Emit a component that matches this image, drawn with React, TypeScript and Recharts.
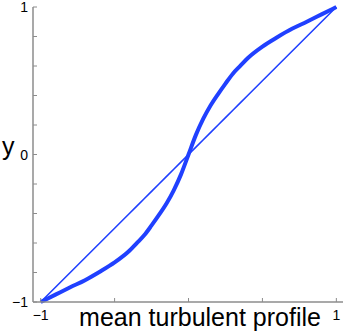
import React from 'react';
import { LineChart, Line, XAxis, YAxis } from 'recharts';

// sample positions across the channel
const xs = [-1, -0.9, -0.8, -0.7, -0.6, -0.5, -0.4, -0.35, -0.3, -0.25, -0.2, -0.15, -0.1, -0.05, 0,
  0.05, 0.1, 0.15, 0.2, 0.25, 0.3, 0.35, 0.4, 0.5, 0.6, 0.7, 0.8, 0.9, 1];
// thick S-shaped mean turbulent profile
const profile = [-1, -0.95, -0.9, -0.852, -0.795, -0.732, -0.653, -0.601, -0.548, -0.481, -0.41, -0.334, -0.243, -0.133, 0,
  0.133, 0.243, 0.334, 0.41, 0.481, 0.548, 0.601, 0.653, 0.732, 0.795, 0.852, 0.9, 0.95, 1];
// thin straight reference line
const linear = [-1, -0.9, -0.8, -0.7, -0.6, -0.5, -0.4, -0.35, -0.3, -0.25, -0.2, -0.15, -0.1, -0.05, 0,
  0.05, 0.1, 0.15, 0.2, 0.25, 0.3, 0.35, 0.4, 0.5, 0.6, 0.7, 0.8, 0.9, 1];

const xTicks = [-1, -0.5, 0, 0.5, 1];
const xLabelled = [-1, 1];
const yTicks = [-1, -0.8, -0.6, -0.4, -0.2, 0, 0.2, 0.4, 0.6, 0.8, 1];
const yLabelled = [-1, 0, 1];

const data = xs.map((x, i) => ({ x, profile: profile[i], linear: linear[i] }));

const BLUE = '#2040ff';
const GREY = '#8c8c8c';
const FONT = '"Liberation Sans", Arial, sans-serif';
const TICK = 4;

const fmt = (v: number) => (v < 0 ? '\u2212' + Math.abs(v) : String(v));

const BottomTick = (props: any) => {
  const { x, y, payload } = props;
  const v = payload.value;
  return (
    <g>
      <line x1={x} x2={x} y1={y} y2={y - TICK} stroke={GREY} strokeWidth={1} />
      {xLabelled.includes(v) && (
        <text x={x} y={y + 18} textAnchor="middle" fontSize={14} fontFamily={FONT} fill="#000">{fmt(v)}</text>
      )}
    </g>
  );
};

const TopTick = (props: any) => {
  const { x, y } = props;
  return <line x1={x} x2={x} y1={y} y2={y + TICK} stroke={GREY} strokeWidth={1} />;
};

const LeftTick = (props: any) => {
  const { x, y, payload } = props;
  const v = payload.value;
  return (
    <g>
      <line x1={x} x2={x + TICK} y1={y} y2={y} stroke={GREY} strokeWidth={1} />
      {yLabelled.includes(v) && (
        <text x={x - 5} y={y + 5} textAnchor="end" fontSize={14} fontFamily={FONT} fill="#000">{fmt(v)}</text>
      )}
    </g>
  );
};

const RightTick = (props: any) => {
  const { x, y } = props;
  return <line x1={x} x2={x - TICK} y1={y} y2={y} stroke={GREY} strokeWidth={1} />;
};

const XTitle = (props: any) => {
  const { viewBox } = props;
  return (
    <text x={viewBox.x + viewBox.width / 2 + 12} y={viewBox.y + 24} textAnchor="middle"
      fontSize={25} fontFamily={FONT} fill="#000">mean turbulent profile</text>
  );
};

const YTitle = (props: any) => {
  const { viewBox } = props;
  return (
    <text x={2} y={viewBox.y + viewBox.height / 2} textAnchor="start"
      fontSize={25} fontFamily={FONT} fill="#000">y</text>
  );
};

export default function App() {
  return (
    <div style={{ position: 'absolute', left: 0, top: 0, background: '#fff' }}>
      <LineChart width={347} height={332} data={data} margin={{ top: 7, right: 4, bottom: 0, left: 0 }}>
        <XAxis xAxisId="b" dataKey="x" type="number" domain={[-1.052, 1.045]} ticks={xTicks} interval={0}
          orientation="bottom" height={30} tickSize={0} tickMargin={0} tickLine={false}
          axisLine={{ stroke: GREY, strokeWidth: 1.5 }} tick={<BottomTick />} label={<XTitle />} />
        <XAxis xAxisId="t" dataKey="x" type="number" domain={[-1.052, 1.045]} ticks={xTicks} interval={0}
          orientation="top" height={0} tickSize={0} tickMargin={0} tickLine={false}
          axisLine={{ stroke: GREY, strokeWidth: 1.5 }} tick={<TopTick />} />
        <YAxis yAxisId="l" type="number" domain={[-1, 1]} ticks={yTicks} interval={0}
          orientation="left" width={33} tickSize={0} tickMargin={0} tickLine={false}
          axisLine={{ stroke: GREY, strokeWidth: 1.5 }} tick={<LeftTick />} label={<YTitle />} />
        <YAxis yAxisId="r" type="number" domain={[-1, 1]} ticks={yTicks} interval={0}
          orientation="right" width={0} tickSize={0} tickMargin={0} tickLine={false}
          axisLine={{ stroke: GREY, strokeWidth: 1.5 }} tick={<RightTick />} />
        <Line xAxisId="b" yAxisId="l" type="linear" dataKey="linear" stroke={BLUE} strokeWidth={1.6}
          dot={false} isAnimationActive={false} />
        <Line xAxisId="b" yAxisId="l" type="monotone" dataKey="profile" stroke={BLUE} strokeWidth={4}
          dot={false} isAnimationActive={false} />
      </LineChart>
    </div>
  );
}
